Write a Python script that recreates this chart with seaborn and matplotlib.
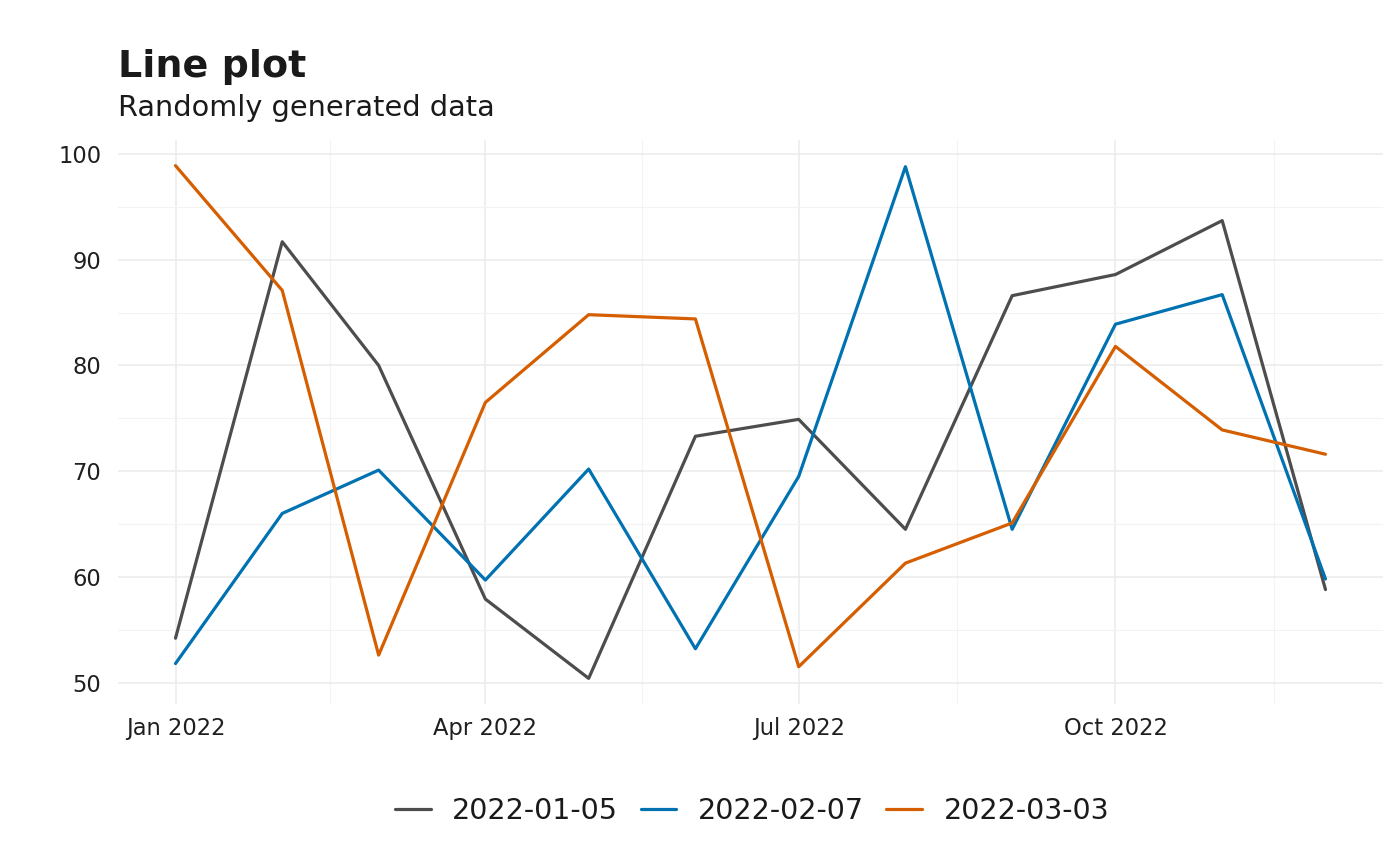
import matplotlib
matplotlib.use("Agg")
import matplotlib.pyplot as plt
import matplotlib.dates as mdates
from matplotlib.lines import Line2D
import seaborn as sns
import pandas as pd
import numpy as np

months = ["2022-01-01", "2022-02-01", "2022-03-01", "2022-04-01", "2022-05-01", "2022-06-01",
          "2022-07-01", "2022-08-01", "2022-09-01", "2022-10-01", "2022-11-01", "2022-12-01"]
series_names = ["2022-01-05", "2022-02-07", "2022-03-03"]
values_a = [54.2, 91.7, 80.0, 57.9, 50.4, 73.3, 74.9, 64.5, 86.6, 88.6, 93.7, 58.8]
values_b = [51.8, 66.0, 70.1, 59.7, 70.2, 53.2, 69.5, 98.8, 64.5, 83.9, 86.7, 59.8]
values_c = [98.9, 87.1, 52.6, 76.5, 84.8, 84.4, 51.5, 61.3, 65.1, 81.8, 73.9, 71.6]
colors = ["#4D4D4D", "#0072B2", "#D55E00"]
y_ticks = [50, 60, 70, 80, 90, 100]
x_tick_labels = ["Jan 2022", "Apr 2022", "Jul 2022", "Oct 2022"]

dates = pd.to_datetime(months)
df = pd.DataFrame({
    "date": np.concatenate([dates] * 3),
    "value": values_a + values_b + values_c,
    "series": np.repeat(series_names, len(months)),
})

sns.set_theme(style="white")
plt.rcParams["font.family"] = ["DejaVu Sans"]

fig = plt.figure(figsize=(14, 8.66), dpi=100)
ax = fig.add_axes([118 / 1400, 1 - 704 / 866, (1383 - 118) / 1400, (704 - 140) / 866])

sns.lineplot(data=df, x="date", y="value", hue="series", hue_order=series_names,
             palette=colors, linewidth=2.3, ax=ax, legend=False, zorder=3)

# limits with ggplot-like expansion
x0 = mdates.date2num(dates[0])
x1 = mdates.date2num(dates[-1])
dx = (x1 - x0) * 0.05
ax.set_xlim(x0 - dx, x1 + dx)
allv = values_a + values_b + values_c
ymin, ymax = min(allv), max(allv)
dy = (ymax - ymin) * 0.05
ax.set_ylim(ymin - dy, ymax + dy)

major = [mdates.date2num(pd.Timestamp(s)) for s in ["2022-01-01", "2022-04-01", "2022-07-01", "2022-10-01", "2023-01-01"]]
ax.set_xticks(major[:4])
ax.set_xticklabels(x_tick_labels)
ax.set_xticks([(major[i] + major[i + 1]) / 2 for i in range(4)], minor=True)
ax.set_yticks(y_ticks)
ax.set_yticks([55, 65, 75, 85, 95], minor=True)

ax.grid(which="major", color="#EBEBEB", linewidth=1.1, zorder=0)
ax.grid(which="minor", color="#F3F3F3", linewidth=0.8, zorder=0)
ax.set_axisbelow(True)
for s in ax.spines.values():
    s.set_visible(False)
ax.tick_params(axis="both", which="both", length=0, labelsize=16.3, labelcolor="#1F1F1F")
ax.tick_params(axis="x", pad=9.5)
ax.tick_params(axis="y", pad=12)
ax.set_xlabel("")
ax.set_ylabel("")

fig.text(118 / 1400, 1 - 77 / 866, "Line plot", fontsize=27.4, fontweight="bold",
         color="#1A1A1A", ha="left", va="baseline")
fig.text(118 / 1400, 1 - 116 / 866, "Randomly generated data", fontsize=20.7,
         color="#1A1A1A", ha="left", va="baseline")

handles = [Line2D([], [], color=c, linewidth=2.3) for c in colors]
fig.legend(handles, series_names, loc="center", bbox_to_anchor=(752 / 1400, 1 - 811 / 866),
           ncol=3, frameon=False, fontsize=20.5, handlelength=1.25, handletextpad=0.75,
           columnspacing=0.8, labelcolor="#1A1A1A")

fig.savefig("out.png", dpi=100, facecolor="white")
